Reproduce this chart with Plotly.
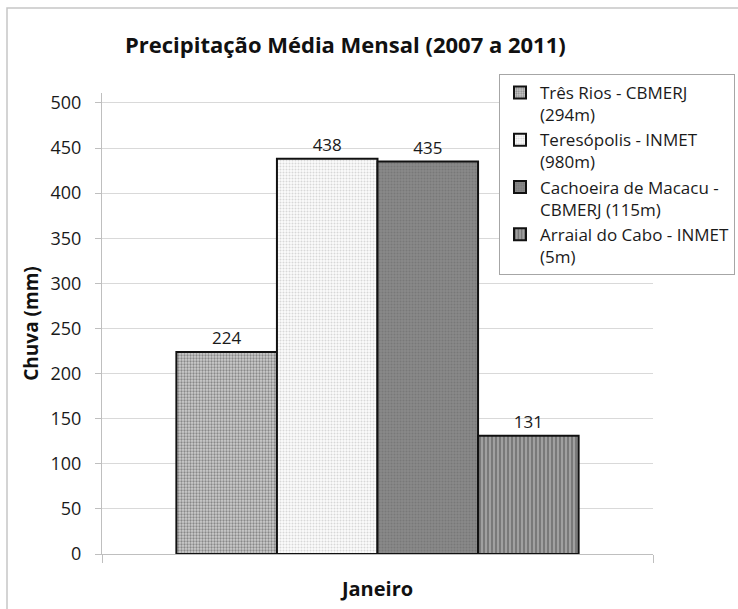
import plotly.graph_objects as go

# Monthly mean precipitation for January, 2007-2011
categoria = ["Janeiro"]
estacoes = [
    "Três Rios - CBMERJ<br>(294m)",
    "Teresópolis - INMET<br>(980m)",
    "Cachoeira de Macacu -<br>CBMERJ (115m)",
    "Arraial do Cabo - INMET<br>(5m)",
]
chuva_tres_rios = [224]
chuva_teresopolis = [438]
chuva_cachoeira = [435]
chuva_arraial = [131]

series = [chuva_tres_rios, chuva_teresopolis, chuva_cachoeira, chuva_arraial]

# fill patterns per station
padroes = [
    dict(shape=".", fgcolor="#444444", bgcolor="#cdcdcd", size=3, solidity=0.45),
    dict(shape=".", fgcolor="#b5b5b5", bgcolor="#fbfbfb", size=3, solidity=0.35),
    dict(shape=".", fgcolor="#666666", bgcolor="#8a8a8a", size=3, solidity=0.4),
    dict(shape="|", fgcolor="#1e1e1e", bgcolor="#a0a0a0", size=4, solidity=0.3),
]

FONT = "Open Sans"

fig = go.Figure()
for nome, valores, pad in zip(estacoes, series, padroes):
    fig.add_trace(go.Bar(
        x=categoria,
        y=valores,
        name=nome,
        text=[str(v) for v in valores],
        textposition="outside",
        textfont=dict(family=FONT, size=17, color="#1a1a1a"),
        cliponaxis=False,
        marker=dict(
            color=pad["bgcolor"],
            pattern=pad,
            line=dict(color="#111111", width=2),
        ),
    ))

L, R, T, B = 102, 85, 93, 55
W, H = 738, 609
pw, ph = W - L - R, H - T - B

fig.update_layout(
    width=W, height=H,
    margin=dict(l=L, r=R, t=T, b=B, autoexpand=False),
    paper_bgcolor="white",
    plot_bgcolor="white",
    barmode="group",
    bargap=0.27,
    bargroupgap=0,
    font=dict(family=FONT, color="#1a1a1a"),
    title=dict(
        text="<b>Precipitação Média Mensal (2007 a 2011)</b>",
        font=dict(family=FONT, size=22, color="#111111"),
        x=125 / W, xanchor="left",
        y=1 - 45 / H, yanchor="middle",
    ),
    xaxis=dict(
        showline=True, linecolor="#bfbfbf", linewidth=1,
        ticks="outside", tickson="boundaries", ticklen=8, tickcolor="#bfbfbf",
        showticklabels=False,
        title=dict(text="<b>Janeiro</b>", font=dict(family=FONT, size=20, color="#111111"),
                   standoff=27),
    ),
    yaxis=dict(
        range=[0, 511],
        tickvals=list(range(0, 501, 50)),
        showgrid=True, gridcolor="#d9d9d9", gridwidth=1,
        showline=True, linecolor="#bfbfbf", linewidth=1,
        ticks="outside", ticklen=6, tickcolor="#bfbfbf",
        ticklabelstandoff=10,
        tickfont=dict(family=FONT, size=18, color="#1a1a1a"),
        title=dict(text="<b>Chuva (mm)</b>", font=dict(family=FONT, size=19, color="#111111"),
                   standoff=6),
        zeroline=False,
    ),
    legend=dict(
        x=(499 - L) / pw, xanchor="left",
        y=(H - B - 74) / ph, yanchor="top",
        bordercolor="#a6a6a6", borderwidth=1,
        bgcolor="white",
        font=dict(family=FONT, size=17, color="#1a1a1a"),
        valign="top",
        itemwidth=30,
        tracegroupgap=0,
    ),
    showlegend=True,
)

# outer chart frame
fig.add_shape(
    type="rect", xref="paper", yref="paper",
    x0=(7 - L) / pw, x1=(W + 20 - L) / pw,
    y0=-(B + 20) / ph, y1=(H - B - 8) / ph,
    line=dict(color="#c6c6c6", width=1.5),
    fillcolor="rgba(0,0,0,0)", layer="below",
)

fig.write_html("out.html")
